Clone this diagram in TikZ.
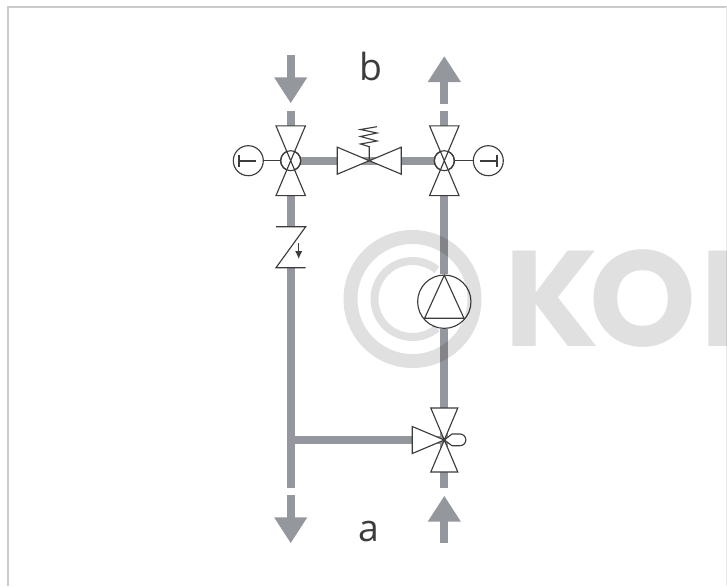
\documentclass[tikz,border=0pt]{standalone}
\usepackage{fontspec}
\setmainfont{Open Sans}
\newfontfamily\markfont{Poppins}
\usetikzlibrary{arrows.meta}

\definecolor{pipegray}{HTML}{94979E}
\definecolor{symbolgray}{HTML}{3C3C3C}
\definecolor{framegray}{HTML}{CBCBCB}

\tikzset{
	pipe/.style={draw=pipegray,line width=6pt},
	flow/.style={pipe,-{Triangle[length=19.5pt,width=23.5pt]}},
	symbol/.style={draw=symbolgray,line width=0.85pt,line join=miter},
	ring/.style={symbol,circle,inner sep=0pt,minimum size=15pt},
	gauge/.style={symbol,circle,inner sep=0pt,minimum size=22.5pt},
	pumpbody/.style={symbol,circle,inner sep=0pt,minimum size=40pt},
	needle/.style={draw=symbolgray,line width=1.5pt},
	label/.style={text=symbolgray,font=\fontsize{28}{28}\selectfont,inner sep=0pt,anchor=base},
	valvetri/.pic={\draw[symbol,fill=white] (0,0) -- (32,-13.5) -- (32,13.5) -- cycle;}
}

\begin{document}
\begin{tikzpicture}[x=0.75pt, y=-0.75pt]

	\useasboundingbox (0,0) rectangle (727,586);

	% frame
	\draw[framegray,line width=1.5pt] (8,586) -- (8,7) -- (727,7);
	\draw[framegray!40,line width=0.75pt] (726.5,7) -- (726.5,586);

	% junctions and free ends
	\coordinate (inTop) at (290.7,55);
	\coordinate (inGap) at (290.7,110.7);
	\coordinate (outGap) at (444.3,104);
	\coordinate (outStub) at (444.3,110.7);
	\coordinate (outTop) at (444.3,56);
	\coordinate (tee) at (290.7,440);
	\coordinate (leftEnd) at (290.7,487.7);
	\coordinate (retStart) at (290.7,495);
	\coordinate (retEnd) at (290.7,543.3);
	\coordinate (supStart) at (444.3,543.3);
	\coordinate (supEnd) at (444.3,495.7);
	\coordinate (supStub) at (444.3,487.7);

	\coordinate (bypass) at (369.3,160.7);
	\coordinate (mixer) at (444.3,440);
	\coordinate (checkTop) at (290.7,226.7);
	\coordinate (checkBot) at (290.7,267.7);
	\node[ring,fill=white] (valveL) at (290.7,160.7) {};
	\node[ring,fill=white] (valveR) at (444.3,160.7) {};
	\node[pumpbody] (pump) at (444.3,301.7) {};
	\node[gauge] (gaugeL) at (248.3,160.7) {};
	\node[gauge] (gaugeR) at (488.3,160.7) {};

	% pipes
	\draw[flow] (inTop) -- (290.7,103.3);
	\draw[pipe] (inGap) -- (valveL);
	\draw[pipe] (valveL) -- (checkTop);
	\draw[pipe] (checkBot) -- (leftEnd);
	\draw[flow] (retStart) -- (retEnd);
	\draw[pipe] (tee) -- (mixer);
	\draw[pipe] (valveL) -- (bypass);
	\draw[pipe] (bypass) -- (valveR);
	\draw[flow] (outGap) -- (outTop);
	\draw[pipe] (outStub) -- (valveR);
	\draw[pipe] (valveR) -- (pump);
	\draw[pipe] (pump) -- (mixer);
	\draw[pipe] (mixer) -- (supStub);
	\draw[flow] (supStart) -- (supEnd);

	% shut-off valves with thermometers
	\foreach \v in {valveL,valveR}{
		\node[ring,fill=white] at (\v) {};
		\pic[rotate=90,scale=1.09] at (\v) {valvetri};
		\pic[rotate=270,scale=1.09] at (\v) {valvetri};
		\node[ring] at (\v) {};
	}
	\draw[symbol] (gaugeL) -- (valveL);
	\draw[symbol] (gaugeR) -- (valveR);
	\draw[needle] (239.3,154.7) -- (239.3,166.7);
	\draw[needle] (239.3,160.7) -- (255.7,160.7);
	\draw[needle] (497.3,154.7) -- (497.3,166.7);
	\draw[needle] (497.3,160.7) -- (480,160.7);

	% spring loaded valve
	\pic at (bypass) {valvetri};
	\pic[rotate=180] at (bypass) {valvetri};
	\draw[symbol] (bypass) -- (369.3,146.7) -- (360.5,144) -- (377,141) -- (360.5,136.5)
		-- (377,133) -- (360.5,129.5) -- (377,126.7);

	% non-return valve
	\draw[symbol] (276,226.7) -- (305.7,226.7) -- (276,267.7) -- (305.7,267.7);
	\draw[symbol,-{Latex[length=6pt,width=5.5pt]}] (298.7,243.3) -- (298.7,259);

	% pump
	\draw[symbol] (444.3,275.2) -- (464,318.3) -- (424.6,318.3) -- cycle;

	% three-way mixing valve
	\draw[symbol,fill=white] (mixer) -- (452,434) -- (460,434) arc (-90:90:5.85) -- (452,445.7) -- cycle;
	\pic[rotate=90] at (mixer) {valvetri};
	\pic[rotate=270] at (mixer) {valvetri};
	\pic[rotate=180] at (mixer) {valvetri};

	\node[label] (labelB) at (371,80) {b};
	\node[label] (labelA) at (369,541) {a};

	% watermark
	\begin{scope}[opacity=0.12]
		\clip (0,0) rectangle (726,586);
		\draw[black,line width=10.5pt] (412.5,299) circle [radius=62];
		\draw[black,line width=6pt] (412.5,299) ++(50:38) arc (50:310:38);
		\node[black,inner sep=0pt,anchor=base west,font=\markfont\bfseries\fontsize{102}{102}\selectfont] (mark) at (504,346.7) {K\kern-7pt O\kern3pt N};
	\end{scope}

\end{tikzpicture}
\end{document}
